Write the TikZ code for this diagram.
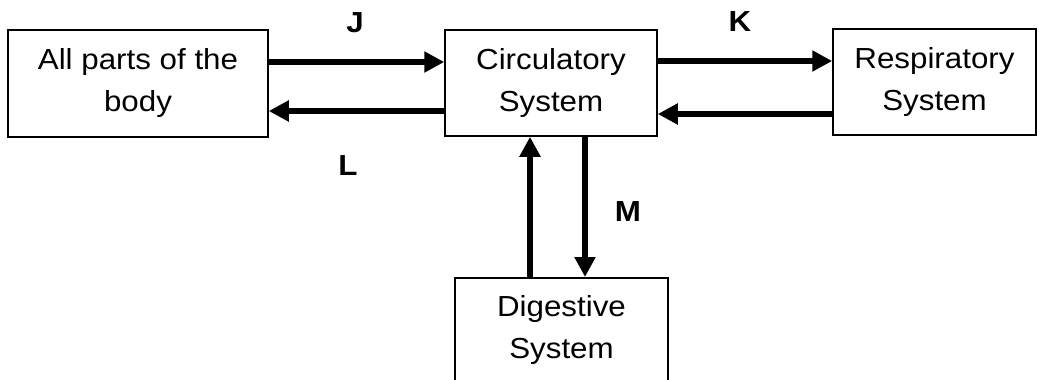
\documentclass[tikz,border=0pt]{standalone}
\usepackage{fontspec}
\setmainfont{Liberation Sans}[FakeStretch=1.08]
\usetikzlibrary{arrows.meta}

\tikzset{
    sysbox/.style={draw, line width=0.75pt, align=center, inner sep=0pt,
        font=\fontsize{14.5}{21}\selectfont},
    flow/.style={line width=3pt, -{Triangle[length=10pt,width=10pt]}},
    flowlabel/.style={font=\fontsize{14.5}{17}\selectfont\bfseries}
}

\begin{document}
\begin{tikzpicture}[x=0.5pt,y=-0.5pt]
        % Fix the frame
        \clip (0,0) rectangle (1039,380);
        \fill[white] (0,0) rectangle (1039,380);

        % Draw the systems
        \node[sysbox, minimum width=130pt, minimum height=53.5pt] (body) at (138,83.5) {All parts of the\\body};
        \node[sysbox, minimum width=106pt, minimum height=53pt] (circ) at (551,83) {Circulatory\\System};
        \node[sysbox, minimum width=101.5pt, minimum height=53pt] (resp) at (934.5,82) {Respiratory\\System};
        \node[sysbox, minimum width=106.5pt, minimum height=60pt, anchor=north] (dig) at (561.5,277) {};
        \node[align=center, font=\fontsize{14.5}{21}\selectfont, anchor=north] (digtext) at (561.5,288) {Digestive\\System};

        % Draw the flows between body and circulation
        \draw[flow] (body.east |- 0,62) -- (circ.west |- 0,62);
        \draw[flow] (circ.west |- 0,111) -- (body.east |- 0,111);

        % Draw the flows between circulation and lungs
        \draw[flow] (circ.east |- 0,61) -- (resp.west |- 0,61);
        \draw[flow] (resp.west |- 0,114) -- (circ.east |- 0,114);

        % Draw the flows between circulation and digestion
        \draw[flow] (dig.north -| 530,0) -- (circ.south -| 530,0);
        \draw[flow] (circ.south -| 585,0) -- (dig.north -| 585,0);

        % Label the flows
        \node[flowlabel] (J) at (355,23) {J};
        \node[flowlabel] (K) at (740,22) {K};
        \node[flowlabel] (L) at (348,166) {L};
        \node[flowlabel] (M) at (628,212) {M};

    \end{tikzpicture}
\end{document}
